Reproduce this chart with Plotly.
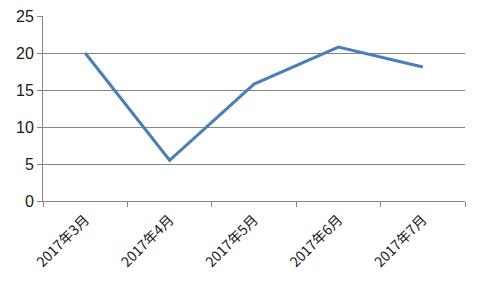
import plotly.graph_objects as go

categories = ["2017年3月", "2017年4月", "2017年5月", "2017年6月", "2017年7月"]
values = [20.0, 5.5, 15.8, 20.8, 18.1]
y_ticks = [0, 5, 10, 15, 20, 25]

fig = go.Figure()
fig.add_trace(go.Scatter(x=categories, y=values, mode="lines",
                         line=dict(color="#4A7EBB", width=3)))

fig.update_layout(
    width=478, height=286,
    margin=dict(l=43, r=13, t=16, b=85),
    paper_bgcolor="white", plot_bgcolor="white",
    showlegend=False,
    font=dict(family="Liberation Sans, Arial, Noto Sans CJK SC", color="#1a1a1a"),
)
fig.update_xaxes(
    type="category", range=[-0.5, len(categories) - 0.5],
    tickangle=-45, tickson="boundaries",
    ticks="outside", ticklen=5, tickcolor="#868686",
    showline=True, linecolor="#868686", linewidth=1,
    showgrid=False, tickfont=dict(size=14, family="Noto Sans CJK SC"),
    ticklabelstandoff=4,
    automargin=False,
)
fig.update_yaxes(
    range=[0, 25], tickvals=y_ticks, ticks="outside", ticklen=5, tickcolor="#868686",
    showline=True, linecolor="#868686", linewidth=1,
    showgrid=True, gridcolor="#868686", gridwidth=1, zeroline=False,
    tickfont=dict(size=16), automargin=False,
)
fig.write_html("out.html")
